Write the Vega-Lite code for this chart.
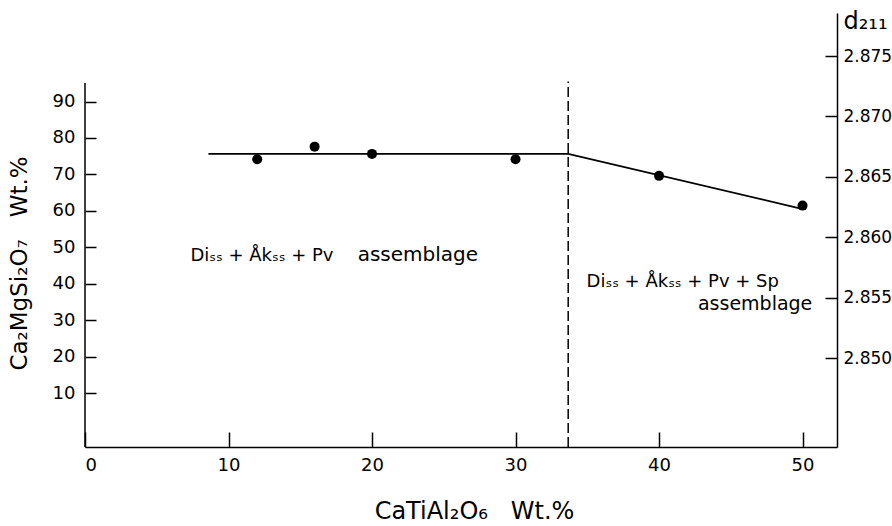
{
  "$schema": "https://vega.github.io/schema/vega-lite/v6.json",
  "width": 752,
  "height": 434,
  "autosize": "none",
  "padding": {"left": 85, "top": 13, "right": 55, "bottom": 79},
  "background": "white",
  "config": {
    "view": {"stroke": null},
    "font": "DejaVu Sans",
    "axis": {
      "grid": false,
      "domainColor": "black",
      "domainWidth": 1.5,
      "tickColor": "black",
      "tickWidth": 1.5,
      "labelColor": "black",
      "labelFont": "DejaVu Sans",
      "labelFontSize": 18,
      "titleColor": "black",
      "titleFont": "DejaVu Sans",
      "titleFontWeight": "normal"
    }
  },
  "datasets": {
    "one": [{}],
    "line": [
      {"x": 8.6, "d": 2.8669},
      {"x": 33.67, "d": 2.8669},
      {"x": 49.8, "d": 2.8624}
    ],
    "points": [
      {"x": 12, "d": 2.86646},
      {"x": 16, "d": 2.8675},
      {"x": 20, "d": 2.8669},
      {"x": 30, "d": 2.86646},
      {"x": 40, "d": 2.86508},
      {"x": 50, "d": 2.86262}
    ]
  },
  "layer": [
    {
      "data": {"name": "one"},
      "layer": [
        {
          "mark": {"type": "rule", "color": "black", "strokeWidth": 1.5},
          "encoding": {
            "x": {"datum": 0, "type": "quantitative",
              "scale": {"domain": [0, 52.4], "nice": false, "zero": false},
              "axis": {
                "orient": "bottom",
                "values": [0, 10, 20, 30, 40, 50],
                "tickSize": -15,
                "labelPadding": 24,
                "title": "CaTiAl₂O₆\u00a0\u00a0\u00a0Wt.%",
                "titleFontSize": 24,
                "titleX": 389,
                "titleY": 71,
                "titleAlign": "center",
                "titleBaseline": "alphabetic"
              }
            },
            "y": {"datum": -4.81, "type": "quantitative",
              "scale": {"domain": [-4.81, 114.3], "nice": false, "zero": false},
              "axis": {
                "orient": "left",
                "domain": false,
                "values": [10, 20, 30, 40, 50, 60, 70, 80, 90],
                "tickSize": -11,
                "labelPadding": 21,
                "title": "Ca₂MgSi₂O₇\u00a0\u00a0\u00a0Wt.%",
                "titleFontSize": 23,
                "titleAngle": -90,
                "titleX": -66,
                "titleY": 250,
                "titleAlign": "center",
                "titleBaseline": "middle"
              }
            },
            "y2": {"datum": 95.1}
          }
        },
        {
          "mark": {"type": "rule", "color": "black", "strokeWidth": 1.5, "strokeDash": [10, 4]},
          "encoding": {
            "x": {"datum": 33.67, "type": "quantitative"},
            "y": {"datum": -4.81, "type": "quantitative"},
            "y2": {"datum": 95.5}
          }
        },
        {
          "mark": {"type": "text", "align": "left", "baseline": "alphabetic", "fontSize": 18, "color": "black", "font": "DejaVu Sans"},
          "encoding": {
            "x": {"datum": 7.35, "type": "quantitative"},
            "y": {"datum": 46.1, "type": "quantitative"},
            "text": {"value": "Diₛₛ + Åkₛₛ + Pv"}
          }
        },
        {
          "mark": {"type": "text", "align": "left", "baseline": "alphabetic", "fontSize": 20, "color": "black", "font": "DejaVu Sans"},
          "encoding": {
            "x": {"datum": 19.0, "type": "quantitative"},
            "y": {"datum": 46.1, "type": "quantitative"},
            "text": {"value": "assemblage"}
          }
        },
        {
          "mark": {"type": "text", "align": "left", "baseline": "alphabetic", "fontSize": 18, "color": "black", "font": "DejaVu Sans"},
          "encoding": {
            "x": {"datum": 34.95, "type": "quantitative"},
            "y": {"datum": 39.2, "type": "quantitative"},
            "text": {"value": "Diₛₛ + Åkₛₛ + Pv + Sp"}
          }
        },
        {
          "mark": {"type": "text", "align": "right", "baseline": "alphabetic", "fontSize": 19, "color": "black", "font": "DejaVu Sans"},
          "encoding": {
            "x": {"datum": 50.68, "type": "quantitative"},
            "y": {"datum": 32.9, "type": "quantitative"},
            "text": {"value": "assemblage"}
          }
        }
      ]
    },
    {
      "layer": [
        {
          "data": {"name": "line"},
          "mark": {"type": "line", "color": "black", "strokeWidth": 1.8},
          "encoding": {
            "x": {"field": "x", "type": "quantitative"},
            "y": {"field": "d", "type": "quantitative",
              "scale": {"domain": [2.84264, 2.87856], "nice": false, "zero": false},
              "axis": {
                "orient": "right",
                "values": [2.85, 2.855, 2.86, 2.865, 2.87, 2.875],
                "format": ".3f",
                "tickSize": -12,
                "labelPadding": 18,
                "labelFontSize": 17,
                "title": "d₂₁₁",
                "titleFontSize": 24,
                "titleAngle": 0,
                "titleX": 6,
                "titleY": 15,
                "titleAlign": "left",
                "titleBaseline": "alphabetic"
              }
            }
          }
        },
        {
          "data": {"name": "points"},
          "mark": {"type": "circle", "color": "black", "opacity": 1, "size": 100},
          "encoding": {
            "x": {"field": "x", "type": "quantitative"},
            "y": {"field": "d", "type": "quantitative"}
          }
        }
      ]
    }
  ],
  "resolve": {"scale": {"y": "independent"}}
}
